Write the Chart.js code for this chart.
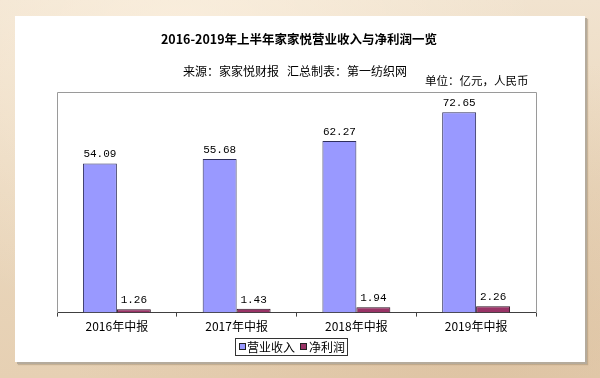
<!DOCTYPE html>
<html>
<head>
<meta charset="utf-8">
<script src="https://cdn.jsdelivr.net/npm/chart.js@4.4.1/dist/chart.umd.min.js"></script>
<style>
    html, body { margin: 0; padding: 0; }
    #frame {
        position: relative;
        width: 600px;
        height: 378px;
        overflow: hidden;
        background:
            radial-gradient(ellipse at 30% 10%, rgba(255, 245, 230, 0.6), rgba(255, 245, 230, 0) 60%),
            radial-gradient(ellipse at 80% 90%, rgba(205, 170, 130, 0.35), rgba(205, 170, 130, 0) 60%),
            linear-gradient(180deg, #f1e3cf 0%, #ead7bd 50%, #e6d0b3 100%);
    }
    #panel {
        position: absolute;
        left: 15px;
        top: 16px;
        width: 570px;
        height: 346px;
        background: #ffffff;
        box-shadow: 2px 2px 0 #b5ab9c, 3px 3px 1px rgba(150, 130, 100, 0.4);
    }
    #chart { position: absolute; left: 0; top: 0; }
</style>
</head>
<body>
<div id="frame">
    <div id="panel"></div>
    <canvas id="chart" width="600" height="378"></canvas>
</div>
<script>
// Data (亿元)
const categories = ['2016年中报', '2017年中报', '2018年中报', '2019年中报'];
const revenue = [54.09, 55.68, 62.27, 72.65];
const netProfit = [1.26, 1.43, 1.94, 2.26];
const seriesNames = ['营业收入', '净利润'];

const titleText = '2016-2019年上半年家家悦营业收入与净利润一览';
const sourceText = '来源：家家悦财报';
const makerText = '汇总制表：第一纺织网';
const unitText = '单位：亿元，人民币';

const CJK = '"Noto Sans CJK SC", "Noto Sans", sans-serif';

// Titles, plot box, value labels and legend
const decorPlugin = {
    id: 'decor',
    afterDraw(chart) {
        const ctx = chart.ctx;
        const area = chart.chartArea;
        ctx.save();

        // plot box
        ctx.strokeStyle = '#9a9a9a';
        ctx.lineWidth = 1;
        ctx.beginPath();
        ctx.moveTo(Math.round(area.left) + 0.5, Math.round(area.bottom));
        ctx.lineTo(Math.round(area.left) + 0.5, Math.round(area.top) + 0.5);
        ctx.lineTo(Math.round(area.right) + 0.5, Math.round(area.top) + 0.5);
        ctx.lineTo(Math.round(area.right) + 0.5, Math.round(area.bottom));
        ctx.stroke();

        // titles
        ctx.fillStyle = '#000';
        ctx.textBaseline = 'middle';
        ctx.textAlign = 'center';
        ctx.font = 'bold 12.5px ' + CJK;
        ctx.fillText(titleText, 299, 39);
        ctx.font = '12px ' + CJK;
        ctx.textAlign = 'left';
        ctx.fillText(sourceText, 183, 71);
        ctx.fillText(makerText, 287, 71);
        ctx.font = '11.5px ' + CJK;
        ctx.fillText(unitText, 425, 81);

        // value labels
        ctx.font = '11px "Liberation Mono", monospace';
        ctx.textAlign = 'center';
        ctx.textBaseline = 'alphabetic';
        chart.data.datasets.forEach((ds, i) => {
            chart.getDatasetMeta(i).data.forEach((bar, j) => {
                ctx.fillText(ds.data[j].toFixed(2), bar.x, bar.y - 6);
            });
        });

        // legend
        const lx = 235, ly = 338, lw = 112, lh = 17;
        ctx.strokeStyle = '#333';
        ctx.strokeRect(lx + 0.5, ly + 0.5, lw, lh);
        ctx.font = '12px ' + CJK;
        ctx.textAlign = 'left';
        ctx.textBaseline = 'middle';
        const items = [[239, 247], [300, 309]];
        chart.data.datasets.forEach((ds, i) => {
            const [bx, tx] = items[i];
            ctx.fillStyle = ds.backgroundColor;
            ctx.fillRect(bx, ly + 5, 7, 7);
            ctx.strokeStyle = '#222';
            ctx.strokeRect(bx + 0.5, ly + 5.5, 6, 6);
            ctx.fillStyle = '#000';
            ctx.fillText(ds.label, tx, ly + lh / 2 + 1);
        });

        ctx.restore();
    }
};

new Chart(document.getElementById('chart'), {
    type: 'bar',
    data: {
        labels: categories,
        datasets: [
            {
                label: seriesNames[0],
                data: revenue,
                backgroundColor: '#9999ff',
                borderColor: '#2e2e5c',
                borderWidth: 1,
                categoryPercentage: 0.567,
                barPercentage: 1
            },
            {
                label: seriesNames[1],
                data: netProfit,
                backgroundColor: '#993366',
                borderColor: '#2a1020',
                borderWidth: 1,
                categoryPercentage: 0.567,
                barPercentage: 1
            }
        ]
    },
    options: {
        responsive: false,
        animation: false,
        layout: {
            padding: { left: 57, right: 64, top: 92, bottom: 41 }
        },
        plugins: {
            legend: { display: false },
            tooltip: { enabled: false }
        },
        scales: {
            x: {
                grid: {
                    drawOnChartArea: false,
                    drawTicks: true,
                    tickLength: 4,
                    color: '#404040',
                    offset: true
                },
                border: { color: '#404040', width: 1 },
                ticks: {
                    color: '#000',
                    padding: 3,
                    font: { family: CJK, size: 12 }
                }
            },
            y: {
                display: false,
                min: 0,
                max: 80
            }
        }
    },
    plugins: [decorPlugin]
});
</script>
</body>
</html>
